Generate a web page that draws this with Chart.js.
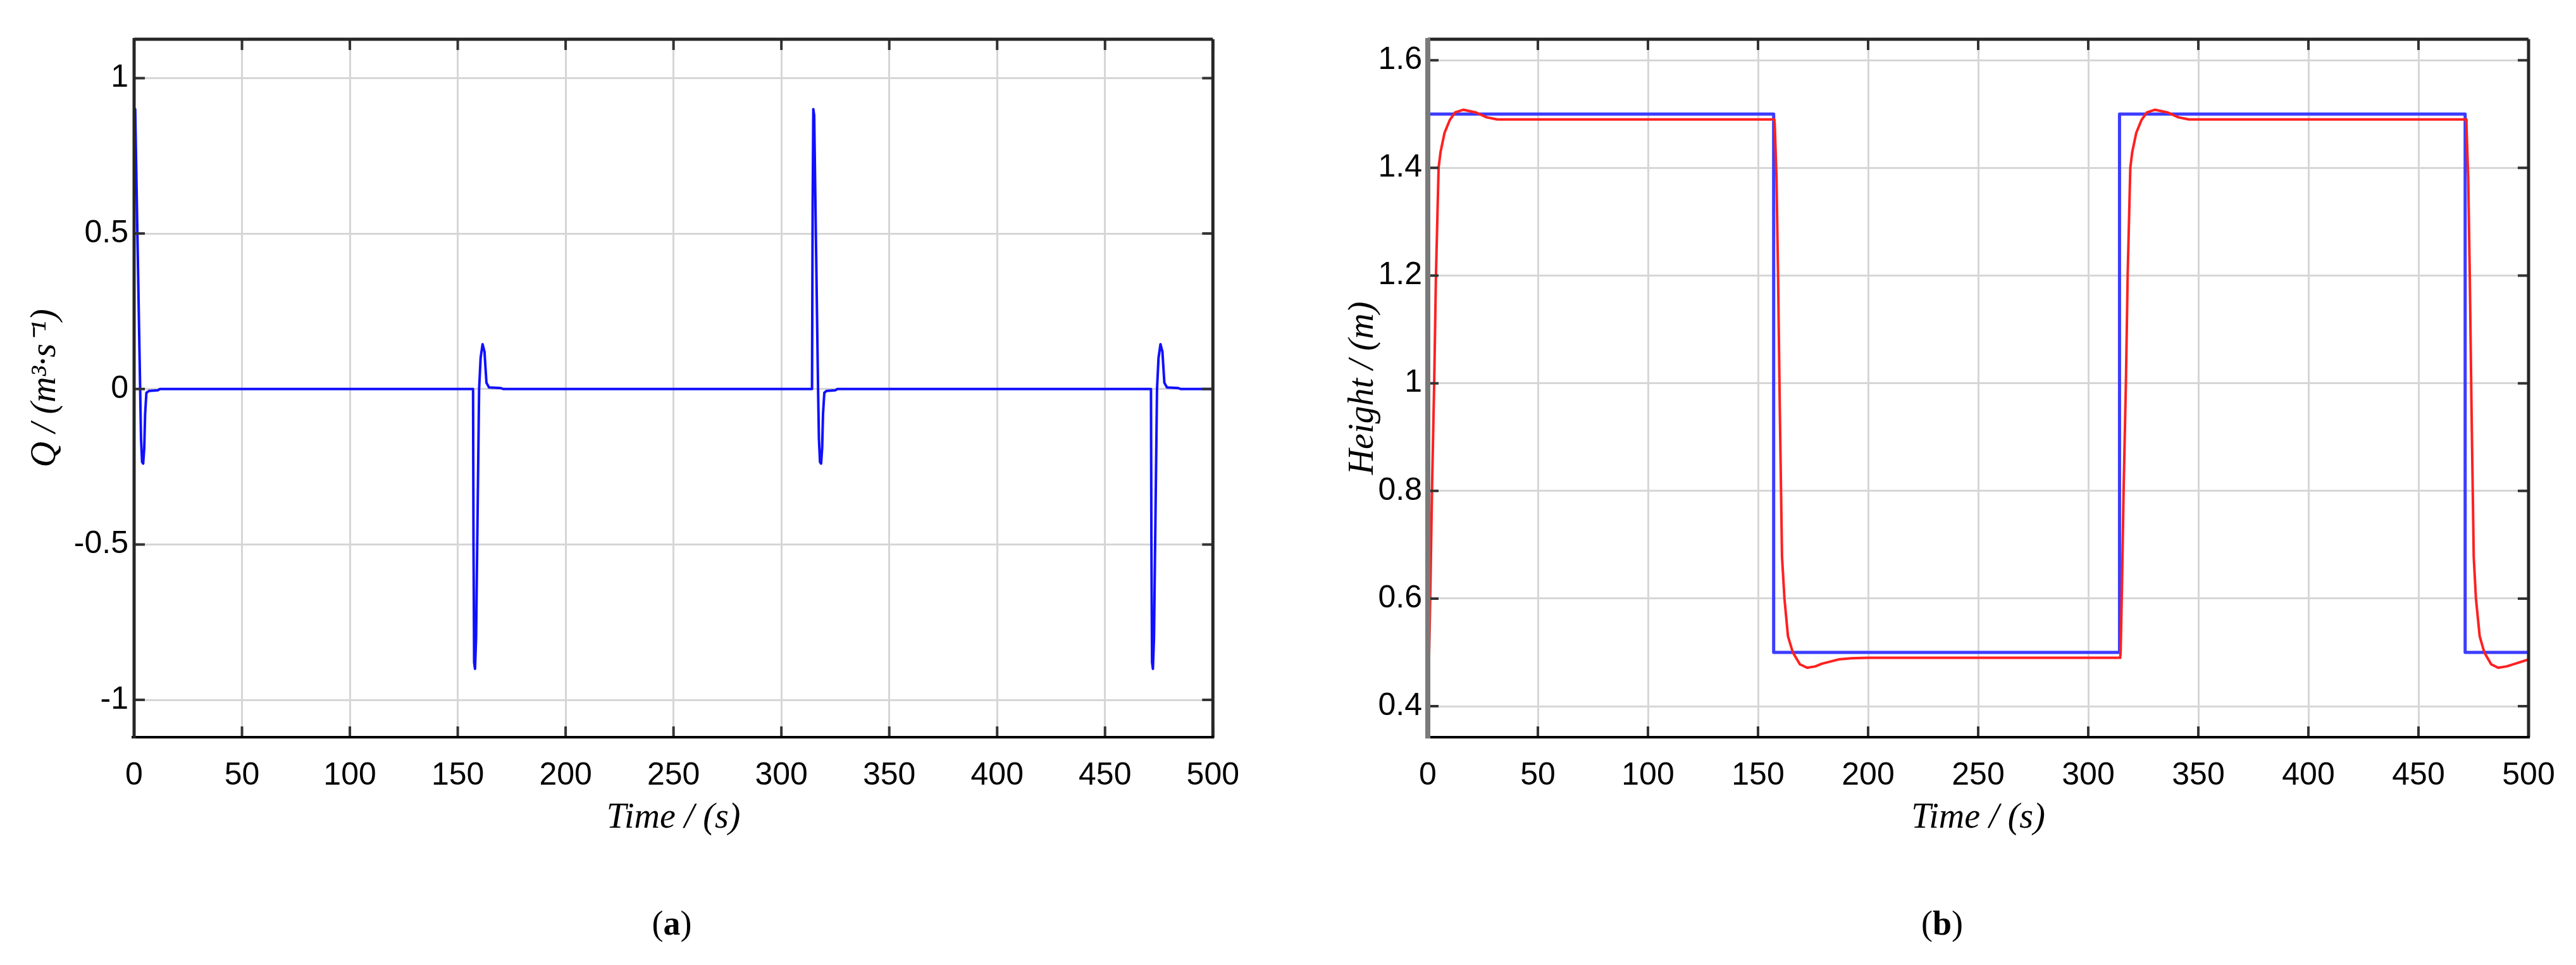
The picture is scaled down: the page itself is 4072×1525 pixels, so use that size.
<!DOCTYPE html>
<html>
<head>
<meta charset="utf-8">
<script src="https://cdn.jsdelivr.net/npm/chart.js@4/dist/chart.umd.min.js"></script>
<style>
html,body{margin:0;padding:0;background:#fff;}
body{width:4072px;height:1525px;position:relative;overflow:hidden;}
canvas{position:absolute;top:0;}
#c1{left:0;width:1990px;height:1345px;}
#c2{left:2050px;width:2022px;height:1345px;}
.cap{position:absolute;font-family:'Liberation Serif','Times New Roman',serif;font-size:54px;color:#000;transform:translate(-50%,-50%);white-space:nowrap;}
</style>
</head>
<body>
<canvas id="c1" width="1990" height="1345"></canvas>
<canvas id="c2" width="2022" height="1345"></canvas>
<div class="cap" style="left:1062px;top:1459px">(<b>a</b>)</div>
<div class="cap" style="left:3070px;top:1459px">(<b>b</b>)</div>
<script>
// ---------- data ----------
const xTicks = [0, 50, 100, 150, 200, 250, 300, 350, 400, 450, 500];
const qTicks = [-1, -0.5, 0, 0.5, 1];
const hTicks = [0.4, 0.6, 0.8, 1, 1.2, 1.4, 1.6];

const xTitle = 'Time / (s)';
const qTitle = 'Q / (m³·s⁻¹)';
const hTitle = 'Height / (m)';

// (a) flow Q
const tQ = [0, 0.5, 2.8, 3.2, 3.7, 4.2, 4.7, 5.1, 5.7, 7, 11, 12,
            157.1, 157.3, 157.6, 158.0, 158.5, 159.2, 159.9, 160.6, 161.5, 162.4, 163.3, 164.5, 170, 171,
            314.2, 314.5, 314.8, 315.2, 317.0, 317.4, 317.9, 318.4, 318.9, 319.3, 319.9, 321, 325, 326,
            471.3, 471.5, 471.8, 472.2, 472.7, 473.4, 474.1, 474.8, 475.7, 476.6, 477.5, 478.7, 484, 485, 500];
const qFlow = [0.90, 0.90, 0.0, -0.16, -0.235, -0.24, -0.19, -0.08, -0.012, -0.006, -0.004, 0,
               0, -0.5, -0.88, -0.9, -0.8, -0.4, 0.0, 0.1, 0.144, 0.12, 0.02, 0.005, 0.003, 0,
               0, 0.6, 0.9, 0.88, 0.0, -0.16, -0.235, -0.24, -0.19, -0.08, -0.012, -0.006, -0.004, 0,
               0, -0.5, -0.88, -0.9, -0.8, -0.4, 0.0, 0.1, 0.144, 0.12, 0.02, 0.005, 0.003, 0, 0];

// (b) reference height (blue)
const tRef = [0, 157.1, 157.1, 314.2, 314.2, 471.2, 471.2, 500];
const hRef = [1.5, 1.5, 0.5, 0.5, 1.5, 1.5, 0.5, 0.5];

// (b) measured height (red)
const tH = [0, 0.5, 1.1, 1.9, 2.9, 3.7, 4.9, 5.8, 7.6, 10, 12.4, 16.2, 21.9, 26.7, 31.5, 157.4,
            157.6, 158.4, 159.1, 159.9, 160.9, 162.0, 163.6, 165.8, 169, 172.3, 176, 179, 186.6, 192.4, 200, 314.5,
            314.7, 315.3, 316.1, 317.1, 317.9, 319.1, 320.0, 321.8, 324.2, 326.6, 330.4, 336.1, 340.9, 345.7, 471.6,
            471.8, 472.6, 473.3, 474.1, 475.1, 476.1, 477.8, 479.9, 483, 486.2, 490, 493.9, 500];
const hMeas = [0.47, 0.475, 0.60, 0.80, 1.00, 1.20, 1.40, 1.43, 1.465, 1.489, 1.503, 1.508, 1.503, 1.494, 1.49, 1.49,
               1.48, 1.38, 1.2, 0.95, 0.677, 0.60, 0.53, 0.50, 0.478, 0.4715, 0.474, 0.479, 0.487, 0.489, 0.49, 0.49,
               0.50, 0.62, 0.81, 1.00, 1.20, 1.40, 1.43, 1.465, 1.489, 1.503, 1.508, 1.503, 1.494, 1.49, 1.49,
               1.48, 1.38, 1.2, 0.95, 0.677, 0.60, 0.53, 0.50, 0.478, 0.4715, 0.474, 0.479, 0.487];

// ---------- helpers ----------
function pts(xs, ys) { return xs.map((x, i) => ({x: x, y: ys[i]})); }

const tickFont = {family: "'Liberation Sans', Arial, sans-serif", size: 50};
const titleFont = {family: "'Liberation Serif', 'Times New Roman', serif", size: 56, style: 'italic'};
const gridColor = '#d6d6d6';

const framePlugin = {
  id: 'frame',
  afterDatasetsDraw(chart, args, opts) {
    const ctx = chart.ctx, a = chart.chartArea, xs = chart.scales.x, ys = chart.scales.y;
    ctx.save();
    ctx.lineCap = 'butt';
    // inward tick marks
    ctx.strokeStyle = '#333';
    ctx.lineWidth = 4;
    const L = 17;
    xs.ticks.forEach(t => {
      const px = xs.getPixelForValue(t.value);
      ctx.beginPath();
      ctx.moveTo(px, a.bottom); ctx.lineTo(px, a.bottom - L);
      ctx.moveTo(px, a.top); ctx.lineTo(px, a.top + L);
      ctx.stroke();
    });
    ys.ticks.forEach(t => {
      const py = ys.getPixelForValue(t.value);
      ctx.beginPath();
      ctx.moveTo(a.left, py); ctx.lineTo(a.left + L, py);
      ctx.moveTo(a.right, py); ctx.lineTo(a.right - L, py);
      ctx.stroke();
    });
    // frame
    ctx.strokeStyle = '#262626';
    ctx.lineWidth = 5;
    ctx.beginPath();
    ctx.moveTo(a.left, a.top); ctx.lineTo(a.right, a.top);
    ctx.moveTo(a.right, a.top); ctx.lineTo(a.right, a.bottom);
    ctx.stroke();
    ctx.strokeStyle = '#000';
    ctx.lineWidth = 4;
    ctx.beginPath();
    ctx.moveTo(a.left - 4, a.bottom); ctx.lineTo(a.right + 2, a.bottom);
    ctx.stroke();
    ctx.strokeStyle = opts.leftColor || '#262626';
    ctx.lineWidth = opts.leftWidth || 5;
    ctx.beginPath();
    ctx.moveTo(a.left, a.top - 2); ctx.lineTo(a.left, a.bottom + 2);
    ctx.stroke();
    ctx.restore();
  }
};

function makeChart(canvasId, datasets, yTickVals, yMin, yMax, yTitle, yAxisWidth, yTitlePad, padRight, leftColor, leftWidth) {
  return new Chart(document.getElementById(canvasId), {
    type: 'line',
    data: {datasets: datasets},
    plugins: [framePlugin],
    options: {
      responsive: false,
      animation: false,
      devicePixelRatio: 1,
      layout: {padding: {left: 0, top: 62, right: padRight, bottom: 10}},
      plugins: {
        legend: {display: false},
        tooltip: {enabled: false},
        frame: {leftColor: leftColor, leftWidth: leftWidth}
      },
      elements: {point: {radius: 0}, line: {tension: 0, borderJoinStyle: 'round', borderCapStyle: 'butt'}},
      scales: {
        x: {
          type: 'linear',
          min: 0, max: 500,
          afterBuildTicks: s => { s.ticks = xTicks.map(v => ({value: v})); },
          afterFit: s => { s.height = 170; },
          ticks: {font: tickFont, color: '#000', padding: 31, maxRotation: 0, autoSkip: false,
                  callback: v => String(v)},
          grid: {color: gridColor, lineWidth: 3, drawTicks: false},
          border: {display: false},
          title: {display: true, text: xTitle, font: titleFont, color: '#000', padding: {top: 0, bottom: 8}}
        },
        y: {
          type: 'linear',
          min: yMin, max: yMax,
          afterBuildTicks: s => { s.ticks = yTickVals.map(v => ({value: v})); },
          afterFit: s => { s.width = yAxisWidth; },
          ticks: {font: tickFont, color: '#000', padding: 9, autoSkip: false,
                  callback: v => String(v)},
          grid: {color: gridColor, lineWidth: 3, drawTicks: false},
          border: {display: false},
          title: {display: true, text: yTitle, font: titleFont, color: '#000', padding: {top: yTitlePad, bottom: 0}}
        }
      }
    }
  });
}

makeChart('c1', [
  {label: 'Q', data: pts(tQ, qFlow), borderColor: '#1010ff', borderWidth: 4, fill: false}
], qTicks, -1.12, 1.125, qTitle, 212, 39, 63, '#262626', 5);

makeChart('c2', [
  {label: 'Height', data: pts(tH, hMeas), borderColor: '#ff2020', borderWidth: 4, fill: false},
  {label: 'Reference', data: pts(tRef, hRef), borderColor: '#3c3cff', borderWidth: 5, fill: false}
], hTicks, 0.3425, 1.639, hTitle, 207, 72, 75, '#7a7a7a', 8);
</script>
</body>
</html>
